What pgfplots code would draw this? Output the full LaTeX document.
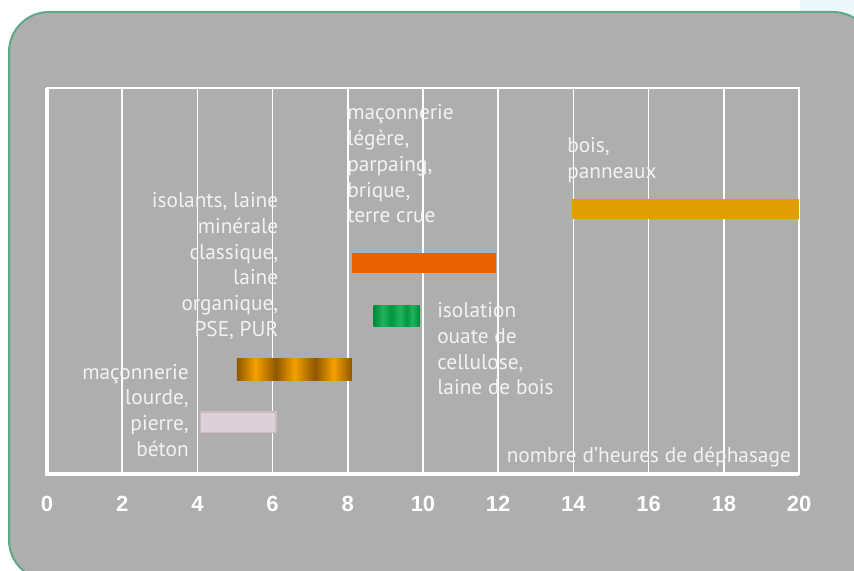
\documentclass[border=0pt]{standalone}
\usepackage{pgfplots}
\pgfplotsset{compat=1.18}
\usepackage{fontspec}
\setmainfont{PT Sans}
\newfontfamily\arialfont{Liberation Sans}
\definecolor{bg}{HTML}{AEAEAE}
\definecolor{bordergreen}{HTML}{5FA888}
\definecolor{cyanpale}{HTML}{EEF8FA}
\definecolor{cbois}{HTML}{E09E00}
\definecolor{corange}{HTML}{EA6100}
\definecolor{cpink}{HTML}{DDD0D6}
\definecolor{cpinkedge}{HTML}{CDBBC3}
\definecolor{bdark}{HTML}{8E5700}
\definecolor{bbright}{HTML}{F6A000}
\definecolor{gdark}{HTML}{008A3B}
\definecolor{gmid}{HTML}{00953F}
\definecolor{glight}{HTML}{22B45D}
\definecolor{txt}{HTML}{F2F2F2}
\pgfdeclarehorizontalshading{brownstripes}{100bp}{color(0bp)=(bdark); color(25bp)=(bdark); color(33bp)=(bbright); color(42bp)=(bdark); color(50bp)=(bbright); color(59bp)=(bdark); color(67bp)=(bbright); color(75bp)=(bdark); color(100bp)=(bdark)}
\pgfdeclarehorizontalshading{greenstripes}{100bp}{color(0bp)=(gdark); color(25bp)=(gdark); color(35bp)=(glight); color(44bp)=(gmid); color(54bp)=(glight); color(61bp)=(gmid); color(67bp)=(glight); color(75bp)=(gdark); color(100bp)=(gdark)}
\begin{document}
\begin{tikzpicture}[x=0.75pt,y=0.75pt]
\useasboundingbox (0,0) rectangle (854,571);
\begin{scope}
\clip (0,0) rectangle (854,571);
\fill[cyanpale] (800,571) rectangle (854,531);
\filldraw[fill=bg, draw=bordergreen, line width=1.5pt, rounded corners=30pt] (9,559) rectangle (873,-9);
\end{scope}
\begin{axis}[at={(35.25pt,72.75pt)}, anchor=south west, scale only axis,
  width=564pt, height=289.5pt,
  xmin=0, xmax=20, ymin=0, ymax=7.283,
  axis line style={draw=none},
  xtick={0,2,...,20}, ytick=\empty, major tick length=0pt,
  xmajorgrids, grid style={white, line width=1.1pt},
  /pgf/number format/assume math mode=true,
  xticklabel style={text=white, font=\arialfont\bfseries\fontsize{16.5}{18}\selectfont, anchor=center, yshift=-22.5pt},
  no markers, clip=false]
\draw[white, line width=1.1pt] (rel axis cs:0,0) rectangle (rel axis cs:1,1);
\draw[white, line width=2.8pt] (rel axis cs:0,1) -- (rel axis cs:0,0) -- (rel axis cs:1,0);
% bars: (start, y-bottom) ... (end, y-top)
\addplot[fill=cbois, draw=none] coordinates {(13.95,4.81) (20,4.81) (20,5.18) (13.95,5.18)};
\addplot[fill=corange, draw=none] coordinates {(8.10,3.79) (11.93,3.79) (11.93,4.17) (8.10,4.17)};
\addplot[draw=none, shade, shading=greenstripes] coordinates {(8.69,2.78) (9.91,2.78) (9.91,3.18) (8.69,3.18)};
\addplot[draw=none, shade, shading=brownstripes] coordinates {(5.05,1.77) (8.11,1.77) (8.11,2.17) (5.05,2.17)};
\addplot[fill=cpink, draw=cpinkedge, line width=0.8pt] coordinates {(4.07,0.79) (6.09,0.79) (6.09,1.17) (4.07,1.17) (4.07,0.79)};
\end{axis}
\tikzset{lbl/.style={text=txt, font=\fontsize{16}{19.4}\selectfont, inner sep=0pt, align=left}}
\node[lbl, anchor=base west] at (347,348) {maçonnerie\\légère,\\parpaing,\\brique,\\terre crue};
\node[lbl, anchor=base west] at (567,392.7) {bois,\\panneaux};
\node[lbl, anchor=base east, align=right] at (278.5,234.3) {isolants, laine\\minérale\\classique,\\laine\\organique,\\PSE, PUR};
\node[lbl, anchor=base east, align=right] at (189,114.3) {maçonnerie\\lourde,\\pierre,\\béton};
\node[lbl, anchor=base west] at (437,176) {isolation\\ouate de\\cellulose,\\laine de bois};
\node[lbl, anchor=base west] at (506.5,108.3) {nombre d’heures de déphasage};
\end{tikzpicture}
\end{document}
